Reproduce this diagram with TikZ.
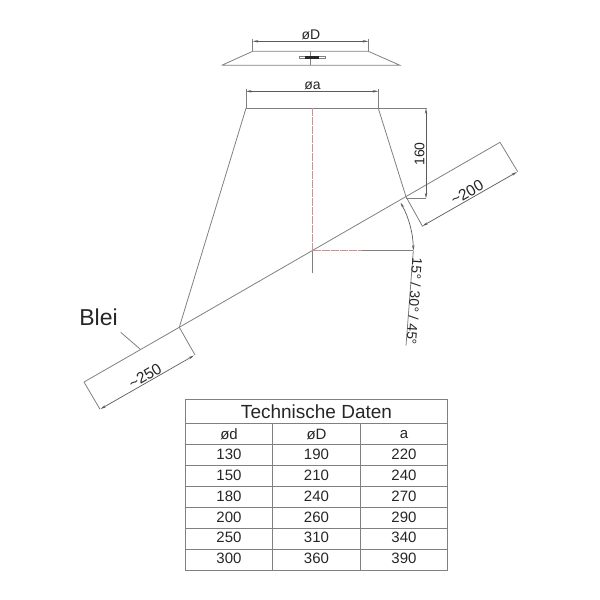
\documentclass[tikz,border=0pt]{standalone}
\usepackage{fontspec}
\setmainfont{Liberation Sans}
\usetikzlibrary{arrows.meta}
\definecolor{linegray}{HTML}{808080}
\definecolor{axisred}{HTML}{D09090}

\begin{document}
\begin{tikzpicture}[x=1pt, y=-1pt, >={Stealth[length=5.5pt,width=2.4pt]}]
\tikzset{part/.style={draw=linegray, line width=0.8pt},
	axis/.style={draw=axisred, line width=0.7pt, dash pattern=on 8pt off 1pt},
	dim/.style={draw=linegray!70!black, line width=0.7pt, <->},
	lbl/.style={inner sep=0pt, font=\fontsize{14}{14}\selectfont, text=black!85},
	lblbig/.style={inner sep=0pt, font=\fontsize{15.5}{15.5}\selectfont, text=black!85},
	cell/.style={inner sep=0pt, font=\fontsize{15}{15}\selectfont, text=black!85}}
\useasboundingbox (0,0) rectangle (600,600);
	% cover
	\coordinate (capTL) at (252.7,51.3);
	\coordinate (capTR) at (368.3,51.3);
	\coordinate (capBL) at (221.7,65.3);
	\coordinate (capBR) at (400,65.3);
	\coordinate (capTM) at (310.7,51.3);
	\coordinate (capBM) at (310.7,65.3);
	\coordinate (capDimL) at (252.7,41.3);
	\coordinate (capDimR) at (368.3,41.3);
	\coordinate (capExtL) at (252.7,39.3);
	\coordinate (capExtR) at (368.3,39.3);
	\draw[part] (capBL) -- (capTL) -- (capTR) -- (capBR) -- (capBL);
	\draw[part] (capTM) -- (capBM);
	\draw[part] (capExtL) -- (capTL);
	\draw[part] (capExtR) -- (capTR);
	\draw[dim] (capDimL) -- (capDimR);
	\draw[part, fill=white] (299.3,56) rectangle (325,58.7);
	\fill[black!85] (305,56.2) rectangle (319,58.5);
	\node[lbl] (capLabel) at (311,35) {øD};

	% cone
	\coordinate (topL) at (246,108.3);
	\coordinate (topR) at (378.3,108.3);
	\coordinate (topM) at (312.7,108.3);
	\coordinate (topDimL) at (246,91.3);
	\coordinate (topDimR) at (378.3,91.3);
	\coordinate (topExtL) at (246,89.3);
	\coordinate (topExtR) at (378.3,89.3);
	\coordinate (roofLow) at (179.3,327.3);
	\coordinate (roofCone) at (406,196.7);
	\coordinate (roofTop) at (500,142.3);
	\coordinate (roofEnd) at (84,382);
	\coordinate (center) at (312.7,250.7);
	\coordinate (centerRed) at (362,250.7);
	\coordinate (axisEnd) at (312.7,272.7);
	\draw[part] (topL) -- (topR);
	\draw[part] (topL) -- (roofLow);
	\draw[part] (topR) -- (roofCone);
	\draw[part] (roofEnd) -- (roofLow) -- (roofTop);
	\draw[part] (topExtL) -- (topL);
	\draw[part] (topExtR) -- (topR);
	\draw[dim] (topDimL) -- (topDimR);
	\node[lbl] (topLabel) at (312.5,85.5) {øa};
	\draw[axis] (topM) -- (center);
	\draw[axis] (center) -- (centerRed);
	\draw[part] (center) -- (axisEnd);

	% height
	\coordinate (hTop) at (427.3,108.3);
	\coordinate (hDimT) at (426,108.3);
	\coordinate (hDimB) at (426,198.3);
	\coordinate (hExtB) at (406,198.3);
	\draw[part] (topR) -- (hTop);
	\draw[part] (hExtB) -- (hDimB);
	\draw[dim] (hDimT) -- (hDimB);
	\node[lbl, rotate=90] (hLabel) at (419.5,154) {160};

	% right overlap
	\coordinate (rExtA) at (422.7,226.7);
	\coordinate (rExtB) at (517.7,171.7);
	\coordinate (rDimA) at (422.5,226);
	\coordinate (rDimB) at (517,172);
	\draw[part] (roofCone) -- (rExtA);
	\draw[part] (roofTop) -- (rExtB);
	\draw[dim] (rDimA) -- (rDimB);
	\node[lblbig, rotate=30] (rLabel) at (467,192.5) {\string~200};

	% slope
	\coordinate (angA) at (413.3,250.7);
	\coordinate (angB) at (400.5,202.5);
	\coordinate (angEnd) at (406,345.7);
	\draw[part] (centerRed) -- (angA);
	\draw[dim] (angA) to[bend right=14.5, looseness=0.87] (angB);
	\draw[part] (angA) -- (angEnd);
	\node[lbl, rotate=-94] (angLabel) at (414.5,301.5) {15° / 30° / 45°};

	% lead
	\coordinate (lExtA) at (195,355);
	\coordinate (lExtB) at (100,409.3);
	\coordinate (lDimA) at (194,355.5);
	\coordinate (lDimB) at (100.5,409);
	\coordinate (bleiA) at (120.7,332.3);
	\coordinate (bleiB) at (140,349);
	\draw[part] (roofLow) -- (lExtA);
	\draw[part] (roofEnd) -- (lExtB);
	\draw[dim] (lDimA) -- (lDimB);
	\draw[part] (bleiA) -- (bleiB);
	\node[lblbig, rotate=30] (lLabel) at (145,376) {\string~250};
	\node[inner sep=0pt, font=\fontsize{23}{23}\selectfont, text=black!85] (blei) at (98.5,317) {Blei};

	% table
	\draw[part] (185,399) rectangle (447.3,570.3);
	\draw[part] (185,423.7) -- (447.3,423.7);
	\draw[part] (272.7,423.7) -- (272.7,570.3);
	\draw[part] (360.3,423.7) -- (360.3,570.3);
	\foreach \ypos in {444.3,465.3,486.3,507,528,549}
		\draw[part] (185,\ypos) -- (447.3,\ypos);
	\node[inner sep=0pt, font=\fontsize{19}{19}\selectfont, text=black!85] (title) at (316.5,412) {Technische Daten};
	\foreach \da/\db/\dc/\ypos [count=\i] in {ød/øD/a/434.5,130/190/220/454.5,150/210/240/475.5,180/240/270/496.5,200/260/290/517,250/310/340/537.5,300/360/390/558}{
		\node[cell] (colA\i) at (229,\ypos) {\da};
		\node[cell] (colB\i) at (316.5,\ypos) {\db};
		\node[cell] (colC\i) at (404,\ypos) {\dc};
	}
\end{tikzpicture}
\end{document}
